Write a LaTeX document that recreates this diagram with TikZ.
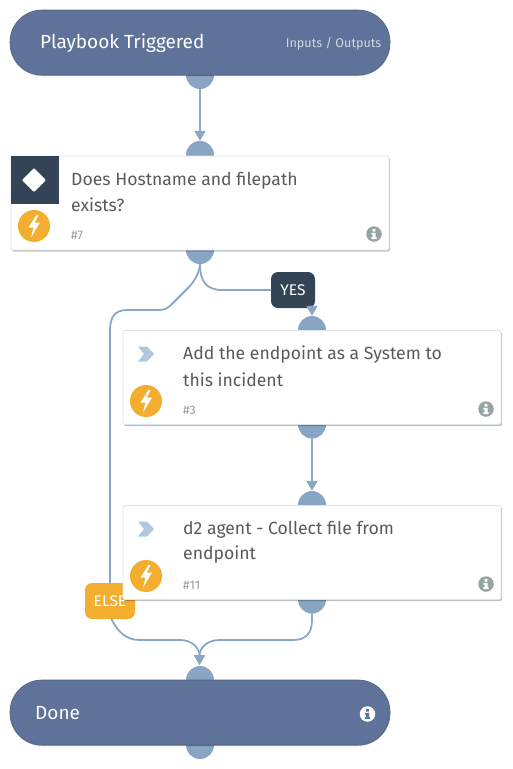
\documentclass[tikz,border=0pt]{standalone}
\usepackage{fontspec}
\setmainfont{Fira Sans}
\usetikzlibrary{arrows.meta,shadows,positioning}
\definecolor{pillc}{HTML}{5F7299}
\definecolor{portc}{HTML}{88A5C4}
\definecolor{linec}{HTML}{8AA7C6}
\definecolor{darkc}{HTML}{324455}
\definecolor{orangec}{HTML}{F3AE2F}
\definecolor{chevc}{HTML}{B0C8DE}
\definecolor{textc}{HTML}{5A5A5A}
\definecolor{idc}{HTML}{9A9A9A}
\definecolor{infoc}{HTML}{95A5A6}
\definecolor{edgec}{HTML}{DDE3EA}
\tikzset{
  x=1pt,y=-1pt,
  pill/.style={draw=pillc!85!black,line width=.6pt,fill=pillc,rounded corners=32pt,minimum width=380pt,minimum height=65pt,inner sep=0pt,drop shadow={shadow xshift=0pt,shadow yshift=-1pt,opacity=.3,fill=black}},
  card/.style={draw=edgec,line width=.8pt,fill=white,rounded corners=1.5pt,minimum width=378pt,minimum height=94pt,inner sep=0pt,drop shadow={shadow xshift=1pt,shadow yshift=-1.5pt,opacity=.25,fill=black}},
  port/.style={circle,fill=portc,minimum size=28pt,inner sep=0pt},
  flow/.style={draw=linec,line width=1.8pt,line cap=round},
  tip/.style={-{Triangle[length=10pt,width=11pt,fill=linec]}},
  cardtext/.style={anchor=west,text=textc,font=\fontsize{17.6}{20}\selectfont,inner sep=0pt,yshift=-1pt},
  idtext/.style={anchor=west,text=idc,font=\fontsize{12.4}{14}\selectfont,inner sep=0pt},
  pilltext/.style={anchor=west,text=white,font=\fontsize{19}{22}\selectfont,inner sep=0pt,yshift=-1pt},
  badge/.style={rounded corners=7pt,minimum height=36pt,inner sep=0pt,text=white,font=\fontsize{15.5}{18}\selectfont},
  boltdisc/.style={circle,fill=orangec,minimum size=32pt,inner sep=0pt},
  chev/.style={fill=chevc},
  infodisc/.style={circle,minimum size=15.5pt,inner sep=0pt},
}
\newcommand{\boltat}[1]{\fill[white,shift={(#1)}] (2.5,-11) -- (-5.5,1.5) -- (-.5,1.5) -- (-3,11.5) -- (6,-3.5) -- (.8,-3.5) -- (4.5,-11) -- cycle;}
\newcommand{\chevat}[1]{\fill[chev,shift={(#1)}] (-8,-7.5) -- (1,-7.5) -- (8,0) -- (1,7.5) -- (-8,7.5) -- (-2,0) -- cycle;}
\newcommand{\iglyph}[2]{\fill[#2,shift={(#1)}] (-1.4,-5) rectangle (1.4,-2.4) (-2.6,-1.2) -- (1.5,-1.2) -- (1.5,3.2) -- (2.7,3.2) -- (2.7,5) -- (-2.7,5) -- (-2.7,3.2) -- (-1.4,3.2) -- (-1.4,.6) -- (-2.6,.6) -- cycle;}
\begin{document}
\begin{tikzpicture}
\useasboundingbox (0,0) rectangle (512,769);
% ports
\node[port] (p1b) at (200,75) {};
\node[port] (c1t) at (200,155) {};
\node[port] (c1b) at (200,250) {};
\node[port] (c2t) at (312,330) {};
\node[port] (c2b) at (312,424.5) {};
\node[port] (c3t) at (312,505) {};
\node[port] (c3b) at (312,599.5) {};
\node[port] (p2t) at (200,680) {};
\node[port] (p2b) at (200,745) {};
% connectors
\coordinate (merge) at (199.5,665);
\draw[flow,tip] (p1b.south) -- (c1t.north);
\draw[flow,tip] (c2b.south) -- (c3t.north);
\node[badge,fill=darkc,minimum width=44pt] (yes) at (293,290) {YES};
\draw[flow] (c1b.south) .. controls (200,282) and (207,290) .. (222,290) -- (yes.west);
\draw[flow,tip] (yes.south -| c2t) -- (c2t.north);
\node[badge,fill=orangec,minimum width=50pt] (else) at (110,601) {ELSE};
\draw[flow] (c1b.south) .. controls (199,274) and (194,282) .. (188,288) -- (172,304) .. controls (167,309) and (164,310) .. (158,310) -- (127,310) .. controls (115,310) and (110,317) .. (110,330) -- (else.north);
\draw[flow,tip] (else.south) ++(1.5,0) .. controls (118,632) and (126,640) .. (140,640) -- (180,640) .. controls (192,640) and (199.5,648) .. (merge);
\draw[flow,tip] (c3b.south) -- (312,620) .. controls (312,633) and (306,640) .. (293,640) -- (220,640) .. controls (207,640) and (199.5,648) .. (merge);
% top pill
\node[pill] (start) at (200,42.5) {};
\node[pilltext] (startlabel) at (40,42.5) {Playbook Triggered};
\node[anchor=east,inner sep=0pt,text=white!72!pillc,font=\fontsize{12.6}{15}\selectfont] (io) at (381.5,43.5) {Inputs / Outputs};
% card 1
\node[card] (card1) at (200,203) {};
\node[fill=darkc,minimum size=48pt,inner sep=0pt,anchor=north west] (sq1) at (card1.north west) {};
\fill[white,rounded corners=1pt] (34,168) -- (46,180) -- (34,192) -- (22,180) -- cycle;
\node[boltdisc] (b1) at (34,226) {}; \boltat{b1}
\node[cardtext] (t1a) at (71,179.5) {Does Hostname and filepath};
\node[cardtext] (t1b) at (71,204) {exists?};
\node[idtext] (id1) at (71,235) {\#7};
\node[infodisc,fill=infoc] (i1) at (374,234) {}; \iglyph{i1}{white}
% card 2
\node[card] (card2) at (312,377.5) {};
\coordinate (ch2) at (146,354); \chevat{ch2}
\node[boltdisc] (b2) at (146,401) {}; \boltat{b2}
\node[cardtext] (t2a) at (183,354) {Add the endpoint as a System to};
\node[cardtext] (t2b) at (183,379) {this incident};
\node[idtext] (id2) at (183,410) {\#3};
\node[infodisc,fill=infoc] (i2) at (486,409) {}; \iglyph{i2}{white}
% card 3
\node[card] (card3) at (312,552.5) {};
\coordinate (ch3) at (146,529); \chevat{ch3}
\node[boltdisc] (b3) at (146,576) {}; \boltat{b3}
\node[cardtext] (t3a) at (183,529) {d2 agent - Collect file from};
\node[cardtext] (t3b) at (183,554) {endpoint};
\node[idtext] (id3) at (183,585) {\#11};
\node[infodisc,fill=infoc] (i3) at (486,584) {}; \iglyph{i3}{white}
% done pill
\node[pill] (done) at (200,712.5) {};
\node[pilltext] (donelabel) at (35,712.5) {Done};
\node[infodisc,fill=white] (i4) at (367.5,714) {}; \iglyph{i4}{pillc}
\end{tikzpicture}
\end{document}
